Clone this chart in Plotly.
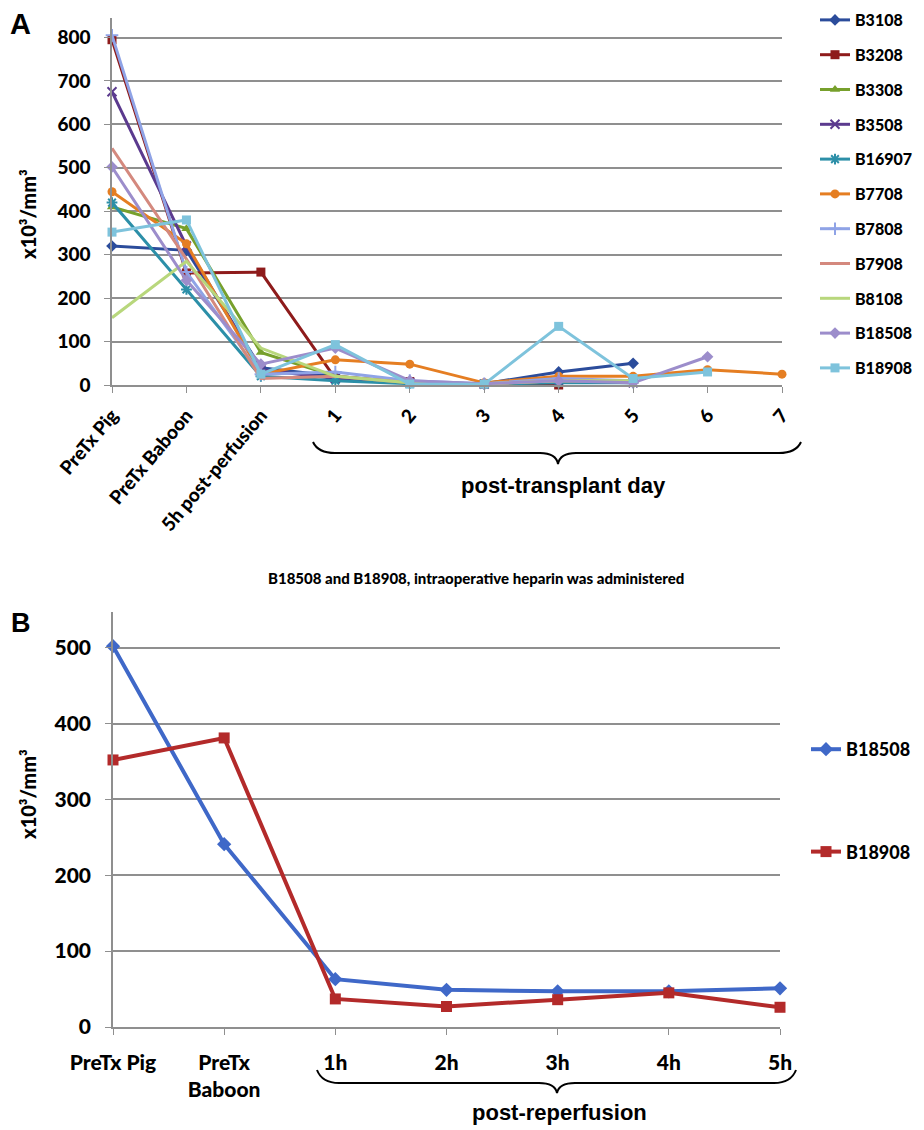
import plotly.graph_objects as go

# ---------------- data ----------------
cats_a = ["PreTx Pig", "PreTx Baboon", "5h post-perfusion", "1", "2", "3", "4", "5", "6", "7"]
names_a = ["B3108", "B3208", "B3308", "B3508", "B16907", "B7708", "B7808", "B7908", "B8108", "B18508", "B18908"]

b3108 = [320, 310, 40, 20, 5, 3, 30, 50, None, None]
b3208 = [795, 258, 260, 15, 8, 2, 0, None, None, None]
b3308 = [410, 360, 75, 20, 5, 3, 10, 10, None, None]
b3508 = [675, 320, 35, 15, 5, 2, 8, 5, None, None]
b16907 = [420, 220, 20, 10, 3, 2, 5, 5, None, None]
b7708 = [445, 325, 25, 58, 48, 5, 20, 20, 35, 25]
b7808 = [805, 260, 25, 30, 10, 3, 15, 10, None, None]
b7908 = [545, 290, 15, 20, 5, 2, 10, 8, None, None]
b8108 = [155, 285, 85, 20, 5, 3, 10, 10, None, None]
b18508_a = [502, 241, 48, 85, 10, 3, 10, 5, 65, None]
b18908_a = [352, 380, 25, 93, 2, 2, 135, 15, 30, None]
values_a = [b3108, b3208, b3308, b3508, b16907, b7708, b7808, b7908, b8108, b18508_a, b18908_a]

cats_b = ["PreTx Pig", "PreTx<br>Baboon", "1h", "2h", "3h", "4h", "5h"]
names_b = ["B18508", "B18908"]
b18508_b = [502, 241, 63, 49, 47, 47, 51]
b18908_b = [352, 381, 37, 27, 36, 45, 26]
values_b = [b18508_b, b18908_b]

yticks_a = [0, 100, 200, 300, 400, 500, 600, 700, 800]
yticks_b = [0, 100, 200, 300, 400, 500]

# ---------------- styles ----------------
W, H = 924, 1130
OFF = 8  # default page body margin of the browser
colors_a = ["#2B4C9B", "#8E1B1B", "#77A02C", "#5B3A8E", "#2C8FA8", "#E57E22",
            "#8FA3E6", "#D4897E", "#B8D77C", "#9C8DCB", "#7EC3DC"]
symbols_a = ["diamond", "square", "triangle-up", "x-thin-open", "asterisk-open", "circle",
             "cross-thin-open", None, None, "diamond", "square"]
colors_b = ["#3F68C8", "#B32A2A"]
symbols_b = ["diamond", "square"]

FONT = "Lato"
GRID = "#8f8f8f"


def px(x):
    return (x - OFF) / W


def py(y):
    return 1 - (y - OFF) / H


fig = go.Figure()

for name, vals, col, sym in zip(names_a, values_a, colors_a, symbols_a):
    mk = dict(color=col, size=9)
    if sym is None:
        mode = "lines"
    else:
        mode = "lines+markers"
        mk["symbol"] = sym
        if sym.endswith("open"):
            mk["line"] = dict(color=col, width=2)
    fig.add_trace(go.Scatter(
        x=cats_a, y=vals, name=name, mode=mode, xaxis="x", yaxis="y",
        line=dict(color=col, width=3), marker=mk, cliponaxis=False,
        legend="legend", legendgroup=name, connectgaps=False,
    ))

for name, vals, col, sym in zip(names_b, values_b, colors_b, symbols_b):
    fig.add_trace(go.Scatter(
        x=cats_b, y=vals, name=name, mode="lines+markers", xaxis="x2", yaxis="y2",
        line=dict(color=col, width=4), marker=dict(color=col, size=11, symbol=sym),
        cliponaxis=False, legend="legend2", legendgroup=name,
    ))

axis_common = dict(showgrid=False, showline=True, linecolor=GRID, linewidth=1.5,
                   ticks="outside", ticklen=6, tickcolor=GRID, zeroline=False,
                   automargin=False)

fig.update_layout(
    width=W, height=H,
    margin=dict(l=0, r=0, t=0, b=0, autoexpand=False),
    paper_bgcolor="white", plot_bgcolor="white",
    font=dict(family=FONT, color="black"),
    xaxis=dict(axis_common, type="category", domain=[px(112), px(782)], range=[0, 9],
               anchor="y", tickangle=-50,
               tickfont=dict(family=FONT, size=19, weight=900), ticklabelstandoff=4),
    yaxis=dict(axis_common, domain=[py(385), py(18)], range=[0, 845], anchor="x",
               tickvals=yticks_a, showgrid=True, gridcolor=GRID, gridwidth=1.5,
               tickfont=dict(family=FONT, size=19, weight=900), ticklabelstandoff=10),
    xaxis2=dict(axis_common, type="category", domain=[px(113), px(780)], range=[0, 6],
                anchor="y2", tickangle=0,
                tickfont=dict(family=FONT, size=21, weight=900), ticklabelstandoff=10),
    yaxis2=dict(axis_common, domain=[py(1027), py(612)], range=[0, 547], anchor="x2",
                tickvals=yticks_b, showgrid=True, gridcolor=GRID, gridwidth=1.5,
                tickfont=dict(family=FONT, size=21, weight=900), ticklabelstandoff=10),
    legend=dict(x=px(815), y=py(3), xanchor="left", yanchor="top",
                font=dict(family=FONT, size=16, weight=900),
                tracegroupgap=11, bgcolor="rgba(0,0,0,0)", itemwidth=30),
    legend2=dict(x=px(806), y=py(731), xanchor="left", yanchor="top",
                 font=dict(family=FONT, size=18, weight=900),
                 tracegroupgap=76, bgcolor="rgba(0,0,0,0)", itemwidth=30),
    showlegend=True,
)

ann = [
    dict(text="A", x=px(8), y=py(6), xanchor="left", yanchor="top",
         font=dict(family="Liberation Sans", size=29, weight="bold")),
    dict(text="B", x=px(9), y=py(606), xanchor="left", yanchor="top",
         font=dict(family="Liberation Sans", size=27, weight="bold")),
    dict(text="x10³/mm³", x=px(28), y=py(215), textangle=-90, xanchor="center", yanchor="middle",
         font=dict(family=FONT, size=20, weight=900)),
    dict(text="x10³/mm³", x=px(28), y=py(795), textangle=-90, xanchor="center", yanchor="middle",
         font=dict(family=FONT, size=20, weight=900)),
    dict(text="post-transplant day", x=px(563), y=py(485), xanchor="center", yanchor="middle",
         font=dict(family="Liberation Sans", size=22, weight="bold")),
    dict(text="post-reperfusion", x=px(559), y=py(1112), xanchor="center", yanchor="middle",
         font=dict(family="Liberation Sans", size=22, weight="bold")),
    dict(text="B18508 and B18908, intraoperative heparin was administered", x=px(476), y=py(578),
         xanchor="center", yanchor="middle",
         font=dict(family=FONT, size=15, weight=900)),
]
for a in ann:
    a.update(xref="paper", yref="paper", showarrow=False)
fig.update_layout(annotations=ann)


def brace(x0, x1, xm, ye, yh, yt):
    pts = (f"M {px(x0)},{py(ye)} Q {px(x0 + 5)},{py(yh)} {px(x0 + 22)},{py(yh)} "
           f"L {px(xm - 18)},{py(yh)} Q {px(xm - 2)},{py(yh)} {px(xm)},{py(yt)} "
           f"Q {px(xm + 2)},{py(yh)} {px(xm + 18)},{py(yh)} "
           f"L {px(x1 - 22)},{py(yh)} Q {px(x1 - 5)},{py(yh)} {px(x1)},{py(ye)}")
    return dict(type="path", path=pts, xref="paper", yref="paper",
                line=dict(color="black", width=2))


fig.update_layout(shapes=[
    brace(313, 801, 558, 442, 453, 464),
    brace(317, 796, 557, 1070, 1083, 1093),
])

fig.write_html("out.html")
